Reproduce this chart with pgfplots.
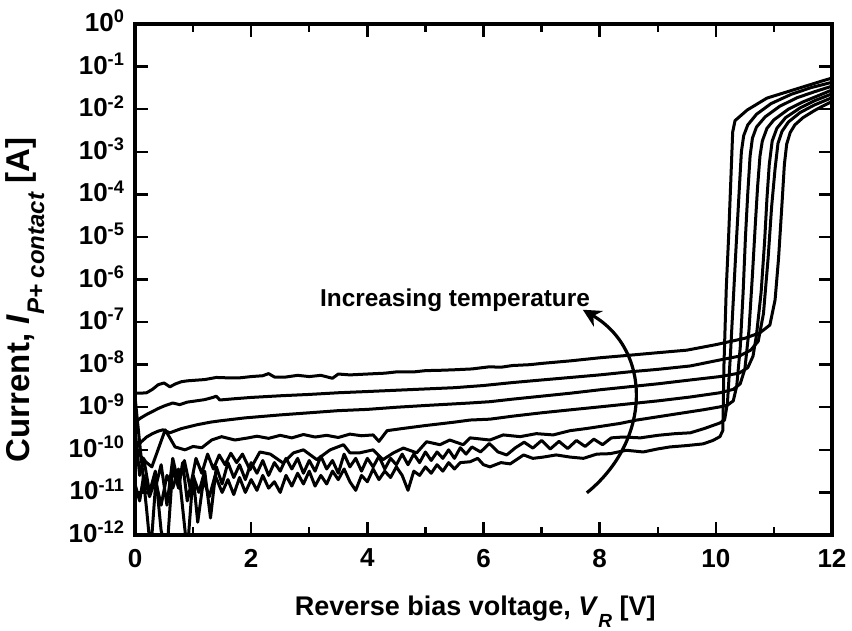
\documentclass[border=0pt]{standalone}
\usepackage{pgfplots}
\pgfplotsset{compat=1.18}
\usetikzlibrary{arrows.meta}
\usepackage{fontspec}
\setmainfont{Liberation Sans}
\newcommand{\subl}[1]{\raisebox{-0.45em}{\fontsize{9.5}{10}\selectfont\bfseries\itshape #1}}
\newcommand{\subL}[1]{\raisebox{-0.45em}{\fontsize{12}{13}\selectfont\bfseries\itshape #1}}
\pgfplotsset{cv/.style={black, line width=1.5pt, line join=round, no marks, solid}}
\begin{document}
\begin{tikzpicture}
\begin{axis}[
  at={(0,0)}, anchor=south west,
  scale only axis, width=348.5pt, height=255.5pt,
  xmin=0, xmax=12, ymin=1e-12, ymax=1,
  ymode=log, log basis y=10,
  xtick={0,2,4,6,8,10,12}, xticklabels={0,2,4,6,8,10,12},
  minor x tick num=1,
  ytickten={-12,-11,...,0},
  yticklabel={\pgfmathparse{int(round(\tick))}10\textsuperscript{\pgfmathresult}},
  tick align=inside,
  major tick length=6.5pt, minor tick length=4pt,
  every tick/.style={black, line width=1.2pt},
  axis line style={line width=2pt},
  tick label style={font=\bfseries\fontsize{13}{15}\selectfont},
  xticklabel style={yshift=-3.5pt},
  yticklabel style={xshift=-1.5pt, yshift=1.5pt},
  every axis x label/.style={at={(axis description cs:0.488,0)}, anchor=base, yshift=-40pt, font=\bfseries\fontsize{13.5}{16}\selectfont},
  every axis y label/.style={at={(axis description cs:-0.158,0.46)}, rotate=90, anchor=center, font=\bfseries\fontsize{16.5}{18}\selectfont},
  xlabel={Reverse bias voltage, \textit{V}\subl{R} [V]},
  ylabel={Current, \textit{I}\subL{P+ contact} [A]},
]
% c1 (highest temperature)
\addplot[cv] coordinates {(0,2.14e-9)(0.1,2.14e-9)(0.2,2.19e-9)(0.3,2.63e-9)(0.4,3.39e-9)(0.5,3.72e-9)(0.6,3.02e-9)(0.7,3.55e-9)(0.8,3.98e-9)(0.9,4.17e-9)(1.0,4.27e-9)(1.2,4.47e-9)(1.4,5.01e-9)(1.6,4.90e-9)(1.8,4.90e-9)(2.0,5.25e-9)(2.2,5.50e-9)(2.3,6.17e-9)(2.4,5.13e-9)(2.6,5.13e-9)(2.8,5.62e-9)(3.0,5.25e-9)(3.2,5.62e-9)(3.4,4.79e-9)(3.5,6.03e-9)(3.7,5.75e-9)(4.0,6.03e-9)(4.3,6.31e-9)(4.5,6.76e-9)(4.8,6.76e-9)(5.0,7.24e-9)(5.3,7.41e-9)(5.5,7.59e-9)(5.8,7.94e-9)(6.1,8.91e-9)(6.3,8.71e-9)(6.5,9.55e-9)(6.8,1.00e-8)(7.0,1.07e-8)(7.5,1.23e-8)(8.0,1.45e-8)(8.5,1.66e-8)(9.0,1.91e-8)(9.5,2.19e-8)(10.0,2.95e-8)(10.5,4.17e-8)(10.76,5.62e-8)(10.93,8.51e-8)(11.02,3.31e-7)(11.08,3.16e-6)(11.14,6.31e-5)(11.18,5.01e-4)(11.22,1.51e-3)(11.28,2.82e-3)(11.36,4.27e-3)(11.5,6.31e-3)(11.7,9.33e-3)(11.85,1.20e-2)(12.0,1.51e-2)};
% c2
\addplot[cv] coordinates {(0,4.47e-10)(0.1,5.62e-10)(0.2,6.76e-10)(0.3,7.94e-10)(0.4,9.33e-10)(0.5,1.07e-9)(0.65,1.26e-9)(0.77,1.15e-9)(0.9,1.32e-9)(1.0,1.38e-9)(1.2,1.51e-9)(1.34,1.70e-9)(1.4,1.82e-9)(1.46,1.48e-9)(1.7,1.58e-9)(2.0,1.70e-9)(2.5,1.86e-9)(3.0,2.00e-9)(3.5,2.19e-9)(4.0,2.34e-9)(4.5,2.51e-9)(5.0,2.69e-9)(5.5,2.88e-9)(6.0,3.24e-9)(6.5,3.80e-9)(7.0,4.37e-9)(7.5,5.01e-9)(8.0,5.75e-9)(8.5,6.76e-9)(9.0,7.76e-9)(9.56,9.33e-9)(10.07,1.29e-8)(10.4,1.58e-8)(10.6,2.19e-8)(10.73,3.55e-8)(10.82,1.58e-7)(10.9,3.16e-6)(10.96,5.01e-5)(11.02,3.98e-4)(11.07,1.58e-3)(11.14,3.02e-3)(11.25,5.01e-3)(11.45,8.32e-3)(11.7,1.26e-2)(12.0,1.86e-2)};
% c3
\addplot[cv] coordinates {(0,1.00e-10)(0.1,1.51e-10)(0.2,2.00e-10)(0.3,2.40e-10)(0.4,2.75e-10)(0.48,2.95e-10)(0.6,2.51e-10)(0.7,2.82e-10)(0.8,3.16e-10)(1.07,3.89e-10)(1.3,4.47e-10)(1.46,4.79e-10)(1.89,5.62e-10)(2.5,6.61e-10)(3.0,7.41e-10)(3.5,8.32e-10)(4.0,8.91e-10)(4.5,1.00e-9)(5.0,1.10e-9)(5.77,1.26e-9)(6.11,1.35e-9)(6.5,1.55e-9)(7.0,1.82e-9)(7.5,2.14e-9)(8.0,2.57e-9)(8.5,3.02e-9)(9.0,3.55e-9)(9.56,4.37e-9)(10.07,5.25e-9)(10.4,6.31e-9)(10.55,8.51e-9)(10.64,1.58e-8)(10.7,5.01e-8)(10.78,5.01e-7)(10.84,7.94e-6)(10.88,7.94e-5)(10.92,5.01e-4)(10.97,1.78e-3)(11.05,3.55e-3)(11.2,6.31e-3)(11.45,1.07e-2)(11.7,1.58e-2)(12.0,2.29e-2)};
% c4
\addplot[cv] coordinates {(0,1.26e-10)(0.1,7.08e-11)(0.2,5.01e-11)(0.29,3.98e-11)(0.52,2.95e-10)(0.69,1.17e-10)(0.86,1.00e-10)(1.0,1.20e-10)(1.15,1.12e-10)(1.32,1.70e-10)(1.49,2.04e-10)(1.72,1.70e-10)(1.95,1.91e-10)(2.1,2.09e-10)(2.3,1.86e-10)(2.5,2.19e-10)(2.7,1.91e-10)(2.9,2.29e-10)(3.1,2.00e-10)(3.3,2.19e-10)(3.5,1.95e-10)(3.7,2.34e-10)(3.9,2.14e-10)(4.1,2.24e-10)(4.2,1.58e-10)(4.34,2.82e-10)(4.6,3.16e-10)(5.0,3.72e-10)(5.5,4.47e-10)(5.77,5.01e-10)(6.11,5.25e-10)(6.5,6.17e-10)(7.0,7.41e-10)(7.5,8.71e-10)(8.0,1.02e-9)(8.5,1.20e-9)(9.0,1.41e-9)(9.56,1.74e-9)(10.07,2.19e-9)(10.3,2.63e-9)(10.42,3.55e-9)(10.5,7.94e-9)(10.57,6.31e-8)(10.63,1.26e-6)(10.68,2.00e-5)(10.72,1.58e-4)(10.76,7.94e-4)(10.8,1.78e-3)(10.88,3.55e-3)(11.0,5.62e-3)(11.25,1.00e-2)(11.5,1.48e-2)(11.75,2.04e-2)(12.0,2.82e-2)};
% c5
\addplot[cv] coordinates {(0,1.78e-9)(0.1,7.94e-11)(0.2,3.98e-12)(0.27,3.98e-13)(0.35,1.26e-11)(0.45,4.47e-11)(0.55,5.01e-12)(0.65,6.31e-11)(0.75,1.58e-11)(0.85,5.62e-11)(0.95,1.26e-11)(1.05,6.31e-11)(1.15,2.82e-11)(1.25,7.94e-11)(1.35,3.55e-11)(1.45,7.59e-11)(1.55,4.47e-11)(1.65,8.32e-11)(1.75,5.01e-11)(1.85,7.94e-11)(1.98,3.39e-11)(2.15,8.91e-11)(2.33,7.94e-11)(2.55,4.90e-11)(2.73,8.51e-11)(2.9,1.00e-10)(3.13,5.89e-11)(3.36,1.00e-10)(3.59,1.32e-10)(3.7,8.51e-11)(3.87,8.51e-11)(4.1,1.00e-10)(4.27,5.89e-11)(4.45,8.51e-11)(4.62,1.10e-10)(4.85,8.51e-11)(5.02,1.55e-10)(5.25,1.32e-10)(5.42,1.70e-10)(5.65,1.32e-10)(5.77,1.91e-10)(6.11,1.70e-10)(6.34,2.24e-10)(6.63,2.04e-10)(6.91,2.40e-10)(7.2,2.24e-10)(7.49,2.82e-10)(7.77,3.16e-10)(8.06,3.63e-10)(8.35,4.17e-10)(8.64,5.01e-10)(9.21,6.61e-10)(9.78,8.71e-10)(10.07,1.02e-9)(10.2,1.12e-9)(10.3,1.41e-9)(10.36,3.16e-9)(10.42,2.51e-8)(10.47,5.01e-7)(10.51,1.00e-5)(10.55,1.07e-4)(10.59,7.94e-4)(10.63,2.09e-3)(10.7,3.80e-3)(10.85,6.61e-3)(11.1,1.17e-2)(11.4,1.86e-2)(11.7,2.57e-2)(12.0,3.47e-2)};
% c6
\addplot[cv] coordinates {(0,3.16e-10)(0.08,2.51e-11)(0.15,6.31e-11)(0.25,1.00e-11)(0.35,3.16e-11)(0.45,1.26e-12)(0.55,4.00e-13)(0.65,3.98e-11)(0.75,1.26e-11)(0.82,5.01e-11)(0.9,6.31e-12)(1.0,2.51e-11)(1.1,1.00e-11)(1.2,3.16e-11)(1.3,2.51e-12)(1.4,3.98e-11)(1.5,1.58e-11)(1.6,5.01e-11)(1.7,2.24e-11)(1.8,4.47e-11)(1.9,2.00e-11)(2.0,5.01e-11)(2.1,2.82e-11)(2.2,5.62e-11)(2.3,2.51e-11)(2.4,5.01e-11)(2.5,3.16e-11)(2.6,6.31e-11)(2.7,3.55e-11)(2.8,6.31e-11)(2.9,2.82e-11)(3.0,5.62e-11)(3.1,3.16e-11)(3.2,7.08e-11)(3.3,3.55e-11)(3.4,5.62e-11)(3.5,2.82e-11)(3.6,7.94e-11)(3.7,3.98e-11)(3.8,6.31e-11)(3.9,3.16e-11)(4.0,6.31e-11)(4.1,3.98e-11)(4.2,7.08e-11)(4.3,3.55e-11)(4.4,6.31e-11)(4.5,4.47e-11)(4.6,7.94e-11)(4.7,4.47e-11)(4.8,7.94e-11)(4.9,5.01e-11)(5.0,8.91e-11)(5.1,5.62e-11)(5.2,8.91e-11)(5.3,6.31e-11)(5.4,1.00e-10)(5.5,6.31e-11)(5.6,1.12e-10)(5.7,7.94e-11)(5.8,1.17e-10)(5.95,8.91e-11)(6.1,1.41e-10)(6.25,8.91e-11)(6.4,7.59e-11)(6.55,1.12e-10)(6.7,1.51e-10)(6.85,1.10e-10)(7.0,1.66e-10)(7.15,1.05e-10)(7.3,1.58e-10)(7.45,1.07e-10)(7.6,1.66e-10)(7.75,1.20e-10)(7.9,1.78e-10)(8.05,1.32e-10)(8.2,1.91e-10)(8.4,2.00e-10)(8.7,1.91e-10)(9.0,2.19e-10)(9.3,2.40e-10)(9.56,2.51e-10)(9.8,3.16e-10)(10.07,4.27e-10)(10.15,5.01e-10)(10.2,1.26e-9)(10.25,1.58e-8)(10.3,3.16e-7)(10.35,6.31e-6)(10.4,1.07e-4)(10.44,1.00e-3)(10.48,2.40e-3)(10.55,4.27e-3)(10.7,7.59e-3)(10.95,1.35e-2)(11.3,2.24e-2)(11.65,3.24e-2)(12.0,4.27e-2)};
% c7 (lowest temperature)
\addplot[cv] coordinates {(0,1.58e-11)(0.08,6.31e-12)(0.15,2.51e-11)(0.25,7.94e-12)(0.35,2.00e-11)(0.45,5.01e-12)(0.55,2.51e-11)(0.65,1.26e-11)(0.75,3.55e-11)(0.9,3.98e-13)(1.0,2.51e-11)(1.08,2.00e-12)(1.18,2.00e-11)(1.28,7.94e-12)(1.38,2.51e-11)(1.5,1.00e-11)(1.6,2.00e-11)(1.7,8.91e-12)(1.8,2.24e-11)(1.9,1.00e-11)(2.0,2.00e-11)(2.1,1.12e-11)(2.2,2.51e-11)(2.3,1.26e-11)(2.4,1.78e-11)(2.5,1.00e-11)(2.6,2.51e-11)(2.7,1.41e-11)(2.8,2.82e-11)(2.9,1.58e-11)(3.0,3.16e-11)(3.1,1.41e-11)(3.2,2.51e-11)(3.3,1.58e-11)(3.4,3.16e-11)(3.5,2.00e-11)(3.6,3.55e-11)(3.7,1.78e-11)(3.8,1.12e-11)(3.9,2.51e-11)(4.0,1.78e-11)(4.1,3.55e-11)(4.2,2.00e-11)(4.3,3.16e-11)(4.4,2.24e-11)(4.5,3.98e-11)(4.6,2.51e-11)(4.7,1.12e-11)(4.8,3.16e-11)(4.9,2.51e-11)(5.0,3.98e-11)(5.1,2.82e-11)(5.2,4.47e-11)(5.3,3.16e-11)(5.4,5.01e-11)(5.5,3.55e-11)(5.6,5.01e-11)(5.77,5.25e-11)(5.9,6.31e-11)(6.0,4.47e-11)(6.11,3.98e-11)(6.3,5.01e-11)(6.46,4.68e-11)(6.69,7.59e-11)(6.85,6.31e-11)(7.03,6.76e-11)(7.25,7.59e-11)(7.49,6.76e-11)(7.72,6.31e-11)(7.95,7.94e-11)(8.18,8.13e-11)(8.46,9.77e-11)(8.75,8.91e-11)(9.0,1.05e-10)(9.21,1.17e-10)(9.5,1.26e-10)(9.78,1.38e-10)(9.95,1.66e-10)(10.07,2.04e-10)(10.12,2.82e-10)(10.14,1.00e-8)(10.18,6.31e-7)(10.22,1.00e-5)(10.26,2.51e-4)(10.29,2.88e-3)(10.33,5.37e-3)(10.54,9.55e-3)(10.88,1.82e-2)(11.33,2.82e-2)(11.85,4.68e-2)(12.0,5.37e-2)};
\node[font=\bfseries\fontsize{12.2}{14}\selectfont] at (axis cs:5.51,3.3e-7) {Increasing temperature};
\draw[line width=1.6pt, -{Stealth[length=9pt,width=9pt]}] (axis cs:7.78,9.8e-12) .. controls (axis cs:8.9,1.7e-10) and (axis cs:8.9,2.2e-8) .. (axis cs:7.71,1.95e-7);
\end{axis}
\pgfresetboundingbox
\path[use as bounding box] (-67.5pt,-48pt) rectangle (358.5pt,267.5pt);
\end{tikzpicture}
\end{document}
